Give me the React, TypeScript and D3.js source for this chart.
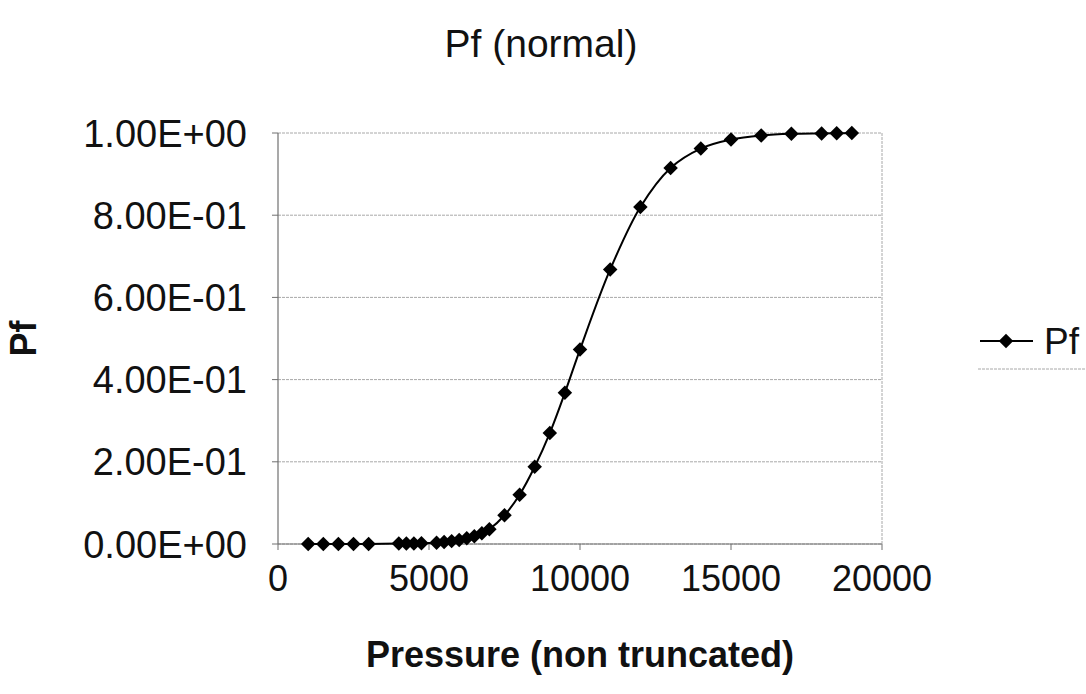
import React from "react";
import * as d3 from "d3";

const pressure = [1000, 1500, 2000, 2500, 3000, 4000, 4250, 4500, 4750, 5250, 5500, 5750, 6000, 6250, 6500, 6750, 7000, 7500, 8000, 8500, 9000, 9500, 10000, 11000, 12000, 13000, 14000, 15000, 16000, 17000, 18000, 18500, 19000];
const pf = [0, 0, 0, 0, 0, 0.001, 0.001, 0.001, 0.002, 0.003, 0.005, 0.007, 0.01, 0.014, 0.019, 0.026, 0.036, 0.07, 0.12, 0.188, 0.27, 0.368, 0.473, 0.668, 0.82, 0.915, 0.962, 0.984, 0.994, 0.998, 0.999, 0.9995, 0.9998];
const xTicks = [0, 5000, 10000, 15000, 20000];
const yTicks = [0, 0.2, 0.4, 0.6, 0.8, 1.0];
const yTickLabels = ["0.00E+00", "2.00E-01", "4.00E-01", "6.00E-01", "8.00E-01", "1.00E+00"];
const title = "Pf (normal)";
const xTitle = "Pressure (non truncated)";
const yTitle = "Pf";
const seriesName = "Pf";

const W = 1086, H = 694;
const L = 278, R = 882, T = 133, B = 544;
const FONT = "'Liberation Sans', Arial, sans-serif";

export default function App() {
  const x = d3.scaleLinear().domain([0, 20000]).range([L, R]);
  const y = d3.scaleLinear().domain([0, 1]).range([B, T]);
  const pts = pressure.map((p, i) => [x(p), y(pf[i])] as [number, number]);
  const line = d3.line().curve(d3.curveCatmullRom.alpha(0.5))(pts) || "";
  const diamond = d3.symbol().type(d3.symbolSquare).size(105)() || "";
  const gridColor = "#a8a8a8";
  return (
    <svg width={W} height={H} style={{ position: "absolute", left: 0, top: 0, background: "#fff" }} fontFamily={FONT}>
      <rect x={0} y={0} width={W} height={H} fill="#fff" />
      <text x={541} y={57} fontSize={39} textAnchor="middle" fill="#111">{title}</text>
      {yTicks.map((t) => (
        <line key={"g" + t} x1={L} x2={R} y1={y(t)} y2={y(t)} stroke={gridColor} strokeWidth={1} strokeDasharray="3,1" />
      ))}
      <line x1={R} x2={R} y1={T} y2={B} stroke={gridColor} strokeWidth={1} strokeDasharray="3,1" />
      <line x1={L} x2={L} y1={T} y2={B} stroke="#707070" strokeWidth={1.2} />
      <line x1={L} x2={R} y1={B} y2={B} stroke="#707070" strokeWidth={1.2} />
      {yTicks.map((t, i) => (
        <g key={"y" + t}>
          <line x1={L - 6} x2={L} y1={y(t)} y2={y(t)} stroke="#707070" />
          <text x={247} y={y(t)} dy="0.36em" fontSize={38} textAnchor="end" fill="#111">{yTickLabels[i]}</text>
        </g>
      ))}
      {xTicks.map((t) => (
        <g key={"x" + t}>
          <line x1={x(t)} x2={x(t)} y1={B} y2={B + 6} stroke="#707070" />
          <text x={x(t)} y={591} fontSize={36} textAnchor="middle" fill="#111">{t}</text>
        </g>
      ))}
      <text x={580} y={667} fontSize={36} fontWeight="bold" textAnchor="middle" fill="#111">{xTitle}</text>
      <text transform={`translate(36,${(T + B) / 2}) rotate(-90)`} fontSize={36} fontWeight="bold" textAnchor="middle" fill="#111">{yTitle}</text>
      <path d={line} fill="none" stroke="#000" strokeWidth={2} />
      {pts.map((p, i) => (
        <path key={"m" + i} d={diamond} transform={`translate(${p[0]},${p[1]}) rotate(45)`} fill="#000" />
      ))}
      <g>
        <line x1={980} x2={1033} y1={341} y2={341} stroke="#000" strokeWidth={2} />
        <path d={diamond} transform={`translate(1006,341) rotate(45)`} fill="#000" />
        <text x={1044} y={341} dy="0.36em" fontSize={37} fill="#111">{seriesName}</text>
        <line x1={978} x2={1086} y1={369} y2={369} stroke={gridColor} strokeWidth={1} strokeDasharray="3,1" />
      </g>
    </svg>
  );
}
